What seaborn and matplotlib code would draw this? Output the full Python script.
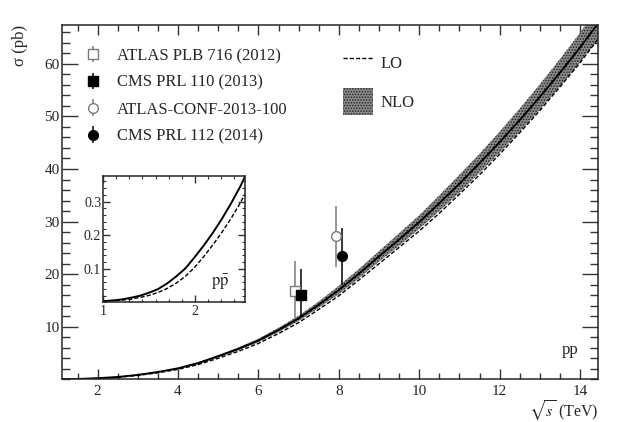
import matplotlib
matplotlib.use('Agg')
import matplotlib.pyplot as plt
from matplotlib.lines import Line2D
from matplotlib.patches import Patch
from matplotlib.ticker import MultipleLocator, AutoMinorLocator
import seaborn as sns
import pandas as pd

# pp curves (sqrt(s) in TeV, sigma in pb)
sqrts = [1.1, 1.5, 2.0, 2.5, 3.0, 3.5, 4.0, 4.5, 5.0, 5.5, 6.0, 6.5, 7.0, 7.5,
         8.0, 8.5, 9.0, 9.5, 10.0, 10.5, 11.0, 11.5, 12.0, 12.5, 13.0, 13.5, 14.0, 14.5]
nlo = [0.02, 0.08, 0.22, 0.45, 0.85, 1.4, 2.1, 3.1, 4.4, 5.8, 7.4, 9.4, 11.6, 14.2,
       17.0, 20.1, 23.4, 26.6, 29.9, 33.5, 37.2, 41.1, 45.1, 49.3, 53.7, 58.3, 63.1, 68.2]
nlo_hi = [0.03, 0.09, 0.24, 0.48, 0.9, 1.48, 2.2, 3.25, 4.6, 6.06, 7.73, 9.82, 12.1, 14.8,
          17.8, 21.0, 24.4, 27.8, 31.2, 35.0, 38.9, 42.9, 47.1, 51.5, 56.1, 60.9, 65.9, 71.3]
nlo_lo = [0.01, 0.07, 0.2, 0.42, 0.8, 1.33, 2.0, 2.95, 4.2, 5.54, 7.07, 8.98, 11.1, 13.6,
          16.2, 19.2, 22.4, 25.4, 28.6, 32.0, 35.5, 39.3, 43.1, 47.1, 51.3, 55.7, 60.3, 65.1]
lo = [0.02, 0.07, 0.19, 0.40, 0.76, 1.26, 1.9, 2.82, 4.02, 5.33, 6.84, 8.72, 10.8, 13.3,
      15.9, 18.9, 22.0, 25.1, 28.2, 31.6, 35.2, 38.9, 42.8, 46.9, 51.1, 55.6, 60.2, 65.2]

# ppbar inset
ppbar_x = [1.0, 1.1, 1.2, 1.3, 1.4, 1.5, 1.6, 1.7, 1.8, 1.9, 2.0, 2.1, 2.2, 2.3,
           2.4, 2.5, 2.55]
ppbar_nlo = [0.004, 0.006, 0.009, 0.014, 0.020, 0.029, 0.040, 0.057, 0.078, 0.102,
             0.135, 0.170, 0.208, 0.250, 0.296, 0.346, 0.375]
ppbar_lo = [0.003, 0.005, 0.007, 0.010, 0.015, 0.021, 0.030, 0.042, 0.058, 0.078,
            0.105, 0.137, 0.172, 0.210, 0.251, 0.297, 0.322]

# measurements
meas_labels = ['ATLAS PLB 716 (2012)', 'CMS PRL 110 (2013)',
               'ATLAS-CONF-2013-100', 'CMS PRL 112 (2014)']
meas_x = [6.92, 7.07, 7.92, 8.07]
meas_y = [16.8, 16.0, 27.2, 23.4]
meas_up = [5.7, 4.9, 5.8, 5.4]
meas_dn = [5.2, 4.0, 5.8, 5.4]
meas_marker = ['s', 's', 'o', 'o']
meas_face = ['white', 'black', 'white', 'black']
meas_col = ['#7a7a7a', 'black', '#7a7a7a', 'black']

sns.set_style('ticks')
plt.rcParams['font.family'] = ['Liberation Serif', 'DejaVu Serif']
plt.rcParams['mathtext.fontset'] = 'stix'
plt.rcParams['hatch.linewidth'] = 0.7
plt.rcParams['axes.linewidth'] = 1.1

band_face = '#8a8a8a'
band_hatch = '#1e1e1e'

fig = plt.figure(figsize=(6.23, 4.22), dpi=100)
ax = fig.add_axes([0.100, 0.101, 0.860, 0.840])

df = pd.DataFrame({'sqrts': sqrts, 'nlo': nlo, 'lo': lo})
ax.fill_between(sqrts, nlo_lo, nlo_hi, facecolor=band_face, edgecolor=band_hatch,
                hatch='......', linewidth=0, zorder=1)
sns.lineplot(data=df, x='sqrts', y='nlo', ax=ax, color='black', lw=1.4,
             estimator=None, zorder=2)
sns.lineplot(data=df, x='sqrts', y='lo', ax=ax, color='black', lw=1.0,
             linestyle=(0, (3, 1.5)), estimator=None, zorder=2)

handles = []
for i in range(len(meas_x)):
    h = ax.errorbar(meas_x[i], meas_y[i], yerr=[[meas_dn[i]], [meas_up[i]]],
                    fmt=meas_marker[i], ms=7, mfc=meas_face[i], mec=meas_col[i],
                    mew=1.0, ecolor=meas_col[i], elinewidth=1.1, capsize=0, zorder=5)
    handles.append(h)

ax.set_xlim(1.12, 14.45)
ax.set_ylim(0, 67.4)
ax.xaxis.set_major_locator(MultipleLocator(2))
ax.xaxis.set_minor_locator(MultipleLocator(0.5))
ax.set_yticks([10, 20, 30, 40, 50, 60])
ax.yaxis.set_minor_locator(MultipleLocator(2))
ax.tick_params(which='both', direction='in', top=True, right=True, labelsize=11,
               color='#333333')
ax.tick_params(axis='y', which='major', length=11.3, width=1.0, pad=2)
ax.tick_params(axis='y', which='minor', length=5.8, width=1.0)
ax.tick_params(axis='x', which='major', length=7.2, width=1.0, pad=4)
ax.tick_params(axis='x', which='minor', length=4.0, width=1.0)
ax.set_xlabel('')
ax.set_ylabel('')

ax.text(1.0, -0.089, r'$\sqrt{s}$ (TeV)', transform=ax.transAxes, fontsize=11.5,
        ha='right', va='center')
ax.text(-0.079, 1.0, 'σ (pb)', transform=ax.transAxes, fontsize=12,
        rotation=90, ha='center', va='top')

leg1 = ax.legend(handles, meas_labels, loc='upper left', bbox_to_anchor=(0.042, 0.935),
                 frameon=False, fontsize=12, borderpad=0, borderaxespad=0,
                 handlelength=1.0, handletextpad=0.92, labelspacing=0.65)
ax.add_artist(leg1)

lo_handle = Line2D([], [], color='black', lw=1.0, linestyle=(0, (3, 1.5)))
nlo_handle = Patch(facecolor=band_face, edgecolor=band_hatch, hatch='......', linewidth=0)
ax.legend([lo_handle, nlo_handle], ['LO', 'NLO'], loc='upper left',
          bbox_to_anchor=(0.523, 0.932), frameon=False, fontsize=12, borderpad=0,
          borderaxespad=0, handlelength=1.83, handleheight=2.1, handletextpad=0.46,
          labelspacing=0.75)

ax.text(0.9476, 0.0827, 'pp', transform=ax.transAxes, fontsize=12,
        ha='center', va='center')

# inset for ppbar
axin = fig.add_axes([0.1658, 0.2832, 0.2275, 0.3004])
dfp = pd.DataFrame({'x': ppbar_x, 'nlo': ppbar_nlo, 'lo': ppbar_lo})
sns.lineplot(data=dfp, x='x', y='nlo', ax=axin, color='black', lw=1.4, estimator=None)
sns.lineplot(data=dfp, x='x', y='lo', ax=axin, color='black', lw=1.0,
             linestyle=(0, (3, 1.5)), estimator=None)
axin.set_xlim(1, 2.55)
axin.set_ylim(0, 0.377)
axin.set_xticks([1, 2])
axin.xaxis.set_minor_locator(AutoMinorLocator(7))
axin.set_yticks([0.1, 0.2, 0.3])
axin.set_yticklabels(['0.1', '0.2', '0.3'])
axin.yaxis.set_minor_locator(MultipleLocator(0.02))
axin.tick_params(which='both', direction='in', top=True, right=True, labelsize=10,
                 color='#333333')
axin.tick_params(which='major', length=5, width=1.0, pad=1.5)
axin.tick_params(which='minor', length=2.5, width=0.8)
axin.set_xlabel('')
axin.set_ylabel('')
axin.text(0.827, 0.154, r'$\mathrm{p\bar{p}}$', transform=axin.transAxes, fontsize=12,
          ha='center', va='center')

fig.savefig('out.png', dpi=100)
